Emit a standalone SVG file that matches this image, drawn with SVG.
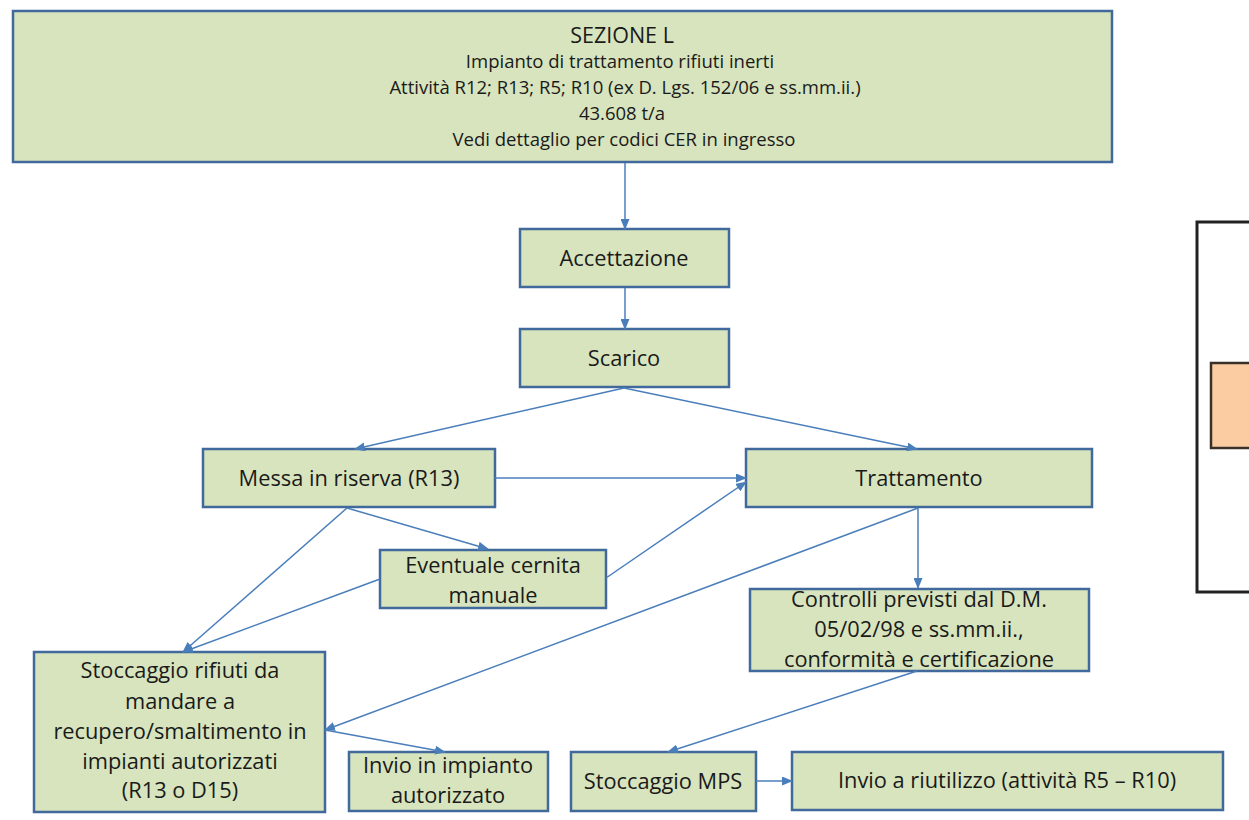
<svg xmlns="http://www.w3.org/2000/svg" width="1249" height="820" viewBox="0 0 1249 820">
  <style>
    .box { fill: #d7e4bd; stroke: #41699c; stroke-width: 2.5; }
    .t { font-family: "Open Sans", "Liberation Sans", sans-serif; font-size: 21.8px; fill: #1a1a1a; text-anchor: middle; }
    .th { font-family: "Open Sans", "Liberation Sans", sans-serif; font-size: 18.5px; fill: #1a1a1a; text-anchor: middle; }
    .link { fill: none; stroke: #4a7ebb; stroke-width: 1.5; marker-end: url(#arrow); }
  </style>
  <defs>
    <marker id="arrow" markerUnits="userSpaceOnUse" markerWidth="11" markerHeight="9" viewBox="0 0 11 9" refX="10" refY="4.5" orient="auto">
      <path d="M0,0 L11,4.5 L0,9 Z" fill="#4a7ebb"/>
    </marker>
  </defs>
  <rect width="1249" height="820" fill="#ffffff"/>

  <!-- section header -->
  <g id="sezione">
    <rect class="box" x="13" y="11" width="1099" height="151"/>
    <text class="th" x="622" y="43" style="font-size:21.5px">SEZIONE L</text>
    <text class="th" x="620" y="68">Impianto di trattamento rifiuti inerti</text>
    <text class="th" x="625" y="94">Attività R12; R13; R5; R10 (ex D. Lgs. 152/06 e ss.mm.ii.)</text>
    <text class="th" x="622" y="120">43.608 t/a</text>
    <text class="th" x="624" y="146">Vedi dettaglio per codici CER in ingresso</text>
  </g>

  <g id="accettazione">
    <rect class="box" x="520" y="229" width="209" height="58"/>
    <text class="t" x="624" y="266">Accettazione</text>
  </g>

  <g id="scarico">
    <rect class="box" x="520" y="329" width="209" height="58"/>
    <text class="t" x="624" y="366">Scarico</text>
  </g>

  <g id="messa-riserva">
    <rect class="box" x="203" y="449" width="292" height="58"/>
    <text class="t" x="349" y="486">Messa in riserva (R13)</text>
  </g>

  <g id="trattamento">
    <rect class="box" x="746" y="449" width="346" height="58"/>
    <text class="t" x="919" y="486">Trattamento</text>
  </g>

  <g id="cernita">
    <rect class="box" x="380" y="550" width="226" height="58"/>
    <text class="t" x="493" y="573">Eventuale cernita</text>
    <text class="t" x="493" y="603">manuale</text>
  </g>

  <g id="controlli">
    <rect class="box" x="750" y="589" width="339" height="82"/>
    <text class="t" x="919" y="607">Controlli previsti dal D.M.</text>
    <text class="t" x="919" y="637">05/02/98 e ss.mm.ii.,</text>
    <text class="t" x="919" y="667">conformità e certificazione</text>
  </g>

  <g id="stoccaggio-rifiuti">
    <rect class="box" x="34" y="652" width="291" height="160"/>
    <text class="t" x="180" y="678">Stoccaggio rifiuti da</text>
    <text class="t" x="180" y="709">mandare a</text>
    <text class="t" x="180" y="739">recupero/smaltimento in</text>
    <text class="t" x="180" y="769">impianti autorizzati</text>
    <text class="t" x="180" y="798">(R13 o D15)</text>
  </g>

  <g id="invio-impianto">
    <rect class="box" x="349" y="752" width="199" height="59"/>
    <text class="t" x="448" y="773">Invio in impianto</text>
    <text class="t" x="448" y="803">autorizzato</text>
  </g>

  <g id="stoccaggio-mps">
    <rect class="box" x="571" y="752" width="185" height="59"/>
    <text class="t" x="663" y="789">Stoccaggio MPS</text>
  </g>

  <g id="invio-riutilizzo">
    <rect class="box" x="792" y="752" width="431" height="58"/>
    <text class="t" x="1007" y="788">Invio a riutilizzo (attività R5 – R10)</text>
  </g>

  <!-- partial frame cut by the right edge -->
  <g id="frame-right">
    <rect x="1197" y="222" width="80" height="370" fill="#ffffff" stroke="#222222" stroke-width="3"/>
    <rect x="1211" y="363" width="60" height="85" fill="#fbcba2" stroke="#3a3028" stroke-width="2.5"/>
  </g>

  <g id="connectors">
    <path class="link" d="M625,163 L625,229"/>
    <path class="link" d="M625,288 L625,329"/>
    <path class="link" d="M624,388 L355,449"/>
    <path class="link" d="M624,388 L917,449"/>
    <path class="link" d="M495,478 L746,478"/>
    <path class="link" d="M347,508 L488,549"/>
    <path class="link" d="M347,508 L183,652"/>
    <path class="link" d="M380,579 L183,652"/>
    <path class="link" d="M606,578 L746,482"/>
    <path class="link" d="M918,508 L325,730"/>
    <path class="link" d="M918,508 L918,588"/>
    <path class="link" d="M325,730 L445,752"/>
    <path class="link" d="M917,671 L668,752"/>
    <path class="link" d="M756,781 L792,781"/>
  </g>
</svg>
